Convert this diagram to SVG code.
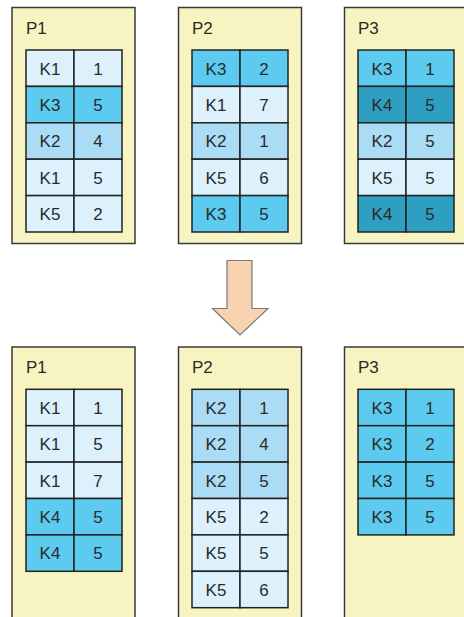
<svg xmlns="http://www.w3.org/2000/svg" width="464" height="617" viewBox="0 0 464 617">
<style>
.box{fill:#f8f4c1;stroke:#3a3a3a;stroke-width:1.5}
.c{stroke:#222;stroke-width:1.5}
.L{fill:#dcf1fb}.M{fill:#aadcf5}.B{fill:#5ccbef}.D{fill:#2f9fc1}
text{font-family:"Liberation Sans",Arial,sans-serif;font-size:17px;fill:#2a2a2a}
.t{text-anchor:middle}
.arrow{fill:#f8d3b1;stroke:#7a7a7a;stroke-width:1.2}
</style>
<rect width="464" height="617" fill="#ffffff"/>

<g id="top-P1">
<rect class="box" x="12" y="7.5" width="123" height="236"/>
<text x="26" y="33.5">P1</text>
<rect class="c L" x="26" y="50" width="48" height="36.4"/><rect class="c L" x="74" y="50" width="48" height="36.4"/>
<rect class="c B" x="26" y="86.4" width="48" height="36.4"/><rect class="c B" x="74" y="86.4" width="48" height="36.4"/>
<rect class="c M" x="26" y="122.8" width="48" height="36.4"/><rect class="c M" x="74" y="122.8" width="48" height="36.4"/>
<rect class="c L" x="26" y="159.2" width="48" height="36.4"/><rect class="c L" x="74" y="159.2" width="48" height="36.4"/>
<rect class="c L" x="26" y="195.6" width="48" height="36.4"/><rect class="c L" x="74" y="195.6" width="48" height="36.4"/>
<text class="t" x="50" y="74.5">K1</text><text class="t" x="98" y="74.5">1</text>
<text class="t" x="50" y="110.9">K3</text><text class="t" x="98" y="110.9">5</text>
<text class="t" x="50" y="147.3">K2</text><text class="t" x="98" y="147.3">4</text>
<text class="t" x="50" y="183.7">K1</text><text class="t" x="98" y="183.7">5</text>
<text class="t" x="50" y="220.1">K5</text><text class="t" x="98" y="220.1">2</text>
</g>

<g id="top-P2">
<rect class="box" x="178.5" y="7.5" width="123" height="236"/>
<text x="192" y="33.5">P2</text>
<rect class="c B" x="192" y="50" width="48" height="36.4"/><rect class="c B" x="240" y="50" width="48" height="36.4"/>
<rect class="c L" x="192" y="86.4" width="48" height="36.4"/><rect class="c L" x="240" y="86.4" width="48" height="36.4"/>
<rect class="c M" x="192" y="122.8" width="48" height="36.4"/><rect class="c M" x="240" y="122.8" width="48" height="36.4"/>
<rect class="c L" x="192" y="159.2" width="48" height="36.4"/><rect class="c L" x="240" y="159.2" width="48" height="36.4"/>
<rect class="c B" x="192" y="195.6" width="48" height="36.4"/><rect class="c B" x="240" y="195.6" width="48" height="36.4"/>
<text class="t" x="216" y="74.5">K3</text><text class="t" x="264" y="74.5">2</text>
<text class="t" x="216" y="110.9">K1</text><text class="t" x="264" y="110.9">7</text>
<text class="t" x="216" y="147.3">K2</text><text class="t" x="264" y="147.3">1</text>
<text class="t" x="216" y="183.7">K5</text><text class="t" x="264" y="183.7">6</text>
<text class="t" x="216" y="220.1">K3</text><text class="t" x="264" y="220.1">5</text>
</g>

<g id="top-P3">
<rect class="box" x="344.5" y="7.5" width="124" height="236"/>
<text x="358" y="33.5">P3</text>
<rect class="c B" x="358" y="50" width="48" height="36.4"/><rect class="c B" x="406" y="50" width="48" height="36.4"/>
<rect class="c D" x="358" y="86.4" width="48" height="36.4"/><rect class="c D" x="406" y="86.4" width="48" height="36.4"/>
<rect class="c M" x="358" y="122.8" width="48" height="36.4"/><rect class="c M" x="406" y="122.8" width="48" height="36.4"/>
<rect class="c L" x="358" y="159.2" width="48" height="36.4"/><rect class="c L" x="406" y="159.2" width="48" height="36.4"/>
<rect class="c D" x="358" y="195.6" width="48" height="36.4"/><rect class="c D" x="406" y="195.6" width="48" height="36.4"/>
<text class="t" x="382" y="74.5">K3</text><text class="t" x="430" y="74.5">1</text>
<text class="t" x="382" y="110.9">K4</text><text class="t" x="430" y="110.9">5</text>
<text class="t" x="382" y="147.3">K2</text><text class="t" x="430" y="147.3">5</text>
<text class="t" x="382" y="183.7">K5</text><text class="t" x="430" y="183.7">5</text>
<text class="t" x="382" y="220.1">K4</text><text class="t" x="430" y="220.1">5</text>
</g>

<g id="connectors">
<polygon class="arrow" points="227,260.5 252,260.5 252,308.5 268,308.5 240,335 212.5,308.5 227,308.5"/>
</g>

<g id="bottom-P1">
<rect class="box" x="12" y="347" width="123" height="290"/>
<text x="26" y="373">P1</text>
<rect class="c L" x="26" y="389.3" width="48" height="36.4"/><rect class="c L" x="74" y="389.3" width="48" height="36.4"/>
<rect class="c L" x="26" y="425.7" width="48" height="36.4"/><rect class="c L" x="74" y="425.7" width="48" height="36.4"/>
<rect class="c L" x="26" y="462.1" width="48" height="36.4"/><rect class="c L" x="74" y="462.1" width="48" height="36.4"/>
<rect class="c B" x="26" y="498.5" width="48" height="36.4"/><rect class="c B" x="74" y="498.5" width="48" height="36.4"/>
<rect class="c B" x="26" y="534.9" width="48" height="36.4"/><rect class="c B" x="74" y="534.9" width="48" height="36.4"/>
<text class="t" x="50" y="413.8">K1</text><text class="t" x="98" y="413.8">1</text>
<text class="t" x="50" y="450.2">K1</text><text class="t" x="98" y="450.2">5</text>
<text class="t" x="50" y="486.6">K1</text><text class="t" x="98" y="486.6">7</text>
<text class="t" x="50" y="523">K4</text><text class="t" x="98" y="523">5</text>
<text class="t" x="50" y="559.4">K4</text><text class="t" x="98" y="559.4">5</text>
</g>

<g id="bottom-P2">
<rect class="box" x="178.5" y="347" width="123" height="290"/>
<text x="192" y="373">P2</text>
<rect class="c M" x="192" y="389.3" width="48" height="36.4"/><rect class="c M" x="240" y="389.3" width="48" height="36.4"/>
<rect class="c M" x="192" y="425.7" width="48" height="36.4"/><rect class="c M" x="240" y="425.7" width="48" height="36.4"/>
<rect class="c M" x="192" y="462.1" width="48" height="36.4"/><rect class="c M" x="240" y="462.1" width="48" height="36.4"/>
<rect class="c L" x="192" y="498.5" width="48" height="36.4"/><rect class="c L" x="240" y="498.5" width="48" height="36.4"/>
<rect class="c L" x="192" y="534.9" width="48" height="36.4"/><rect class="c L" x="240" y="534.9" width="48" height="36.4"/>
<rect class="c L" x="192" y="571.3" width="48" height="36.4"/><rect class="c L" x="240" y="571.3" width="48" height="36.4"/>
<text class="t" x="216" y="413.8">K2</text><text class="t" x="264" y="413.8">1</text>
<text class="t" x="216" y="450.2">K2</text><text class="t" x="264" y="450.2">4</text>
<text class="t" x="216" y="486.6">K2</text><text class="t" x="264" y="486.6">5</text>
<text class="t" x="216" y="523">K5</text><text class="t" x="264" y="523">2</text>
<text class="t" x="216" y="559.4">K5</text><text class="t" x="264" y="559.4">5</text>
<text class="t" x="216" y="595.8">K5</text><text class="t" x="264" y="595.8">6</text>
</g>

<g id="bottom-P3">
<rect class="box" x="344.5" y="347" width="124" height="290"/>
<text x="358" y="373">P3</text>
<rect class="c B" x="358" y="389.3" width="48" height="36.4"/><rect class="c B" x="406" y="389.3" width="48" height="36.4"/>
<rect class="c B" x="358" y="425.7" width="48" height="36.4"/><rect class="c B" x="406" y="425.7" width="48" height="36.4"/>
<rect class="c B" x="358" y="462.1" width="48" height="36.4"/><rect class="c B" x="406" y="462.1" width="48" height="36.4"/>
<rect class="c B" x="358" y="498.5" width="48" height="36.4"/><rect class="c B" x="406" y="498.5" width="48" height="36.4"/>
<text class="t" x="382" y="413.8">K3</text><text class="t" x="430" y="413.8">1</text>
<text class="t" x="382" y="450.2">K3</text><text class="t" x="430" y="450.2">2</text>
<text class="t" x="382" y="486.6">K3</text><text class="t" x="430" y="486.6">5</text>
<text class="t" x="382" y="523">K3</text><text class="t" x="430" y="523">5</text>
</g>
</svg>
